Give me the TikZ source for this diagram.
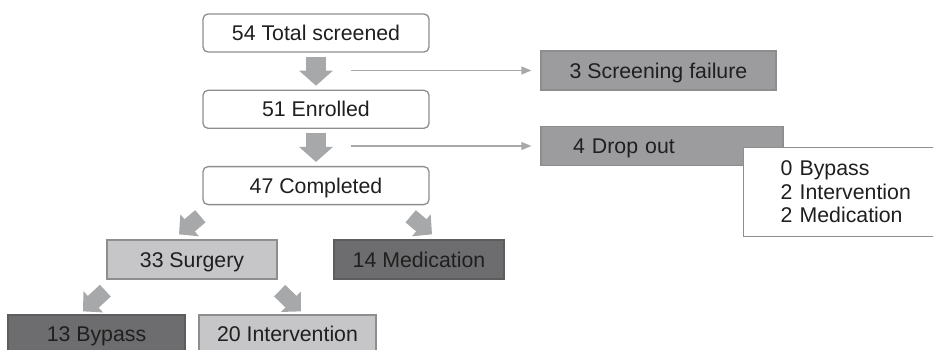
\documentclass[tikz,border=0pt]{standalone}
\usepackage{xcolor}
\usepackage{fontspec}
\setmainfont{Liberation Sans}
\usepackage{tikz}
\usetikzlibrary{positioning, calc, arrows.meta, shapes}

\definecolor{boxline}{HTML}{8E8E8E}
\definecolor{arrowgray}{HTML}{A7A8AA}
\definecolor{lightfill}{HTML}{C6C6C8}
\definecolor{midfill}{HTML}{9C9C9E}
\definecolor{darkfill}{HTML}{6D6D6F}

\tikzset{
	every node/.style={font=\fontsize{21.3}{23.5}\selectfont, text=black!88},
	stagebox/.style={draw=boxline, line width=1.3pt, fill=white, rounded corners=5pt, minimum width=226pt, minimum height=38pt, inner sep=0pt, text height=15pt, text depth=0pt},
	groupbox/.style={draw=boxline, line width=1.3pt, minimum width=170pt, minimum height=39pt, inner sep=0pt, text height=15pt, text depth=0pt},
	exitbox/.style={draw=boxline, line width=1.3pt, fill=midfill, minimum height=39pt, inner sep=0pt, text height=15pt, text depth=0pt},
	downarrow/.style={draw=arrowgray, line width=20pt, -{Triangle[width=33pt, length=15pt]}, shorten <=4pt, shorten >=4pt},
	diagarrow/.style={draw=arrowgray, line width=16pt, -{Triangle[width=28pt, length=14pt]}},
	sidearrow/.style={draw=arrowgray, line width=1.2pt, -{Triangle[width=8pt, length=10pt]}, shorten >=9pt}
}

\begin{document}
\begin{tikzpicture}[x=1pt, y=-1pt]
	
	\useasboundingbox (0,0) rectangle (933,349);
	\clip (0,0) rectangle (933,349);
	
	%//main column
	\node [stagebox] (total) at (316,33) {54 Total screened};
	\node [stagebox, below=37pt of total] (enrol) {51 Enrolled};
	\node [stagebox, below=37pt of enrol] (compl) {47 Completed};
	
	\draw [downarrow] (total) -- (enrol);
	\draw [downarrow] (enrol) -- (compl);
	
	%//losses on the right
	\node [exitbox, minimum width=235pt] (fail) at (658.5,70.5) {3 Screening failure};
	\node [exitbox, minimum width=242pt, text width=178pt, align=left] (drop) at (662,146) {4 Drop out};
	\node [draw=boxline, line width=1.3pt, fill=white, anchor=north west, minimum width=230pt, minimum height=89pt, text width=156pt, inner sep=0pt, align=left] (split) at (743,147) {0 Bypass\\2 Intervention\\2 Medication};
	
	\coordinate (f1) at ([xshift=-189pt]fail.west);
	\coordinate (d1) at ([xshift=-189pt]drop.west);
	\draw [sidearrow] (f1) -- (fail.west);
	\draw [sidearrow] (d1) -- (drop.west);
	
	%//groups
	\node [groupbox, fill=lightfill] (surg) at (192,259.5) {33 Surgery};
	\node [groupbox, fill=darkfill, draw=darkfill!85!black] (med) at (419,259.5) {14 Medication};
	\node [groupbox, fill=darkfill, draw=darkfill!85!black, minimum width=177pt, minimum height=38pt] (byp) at (96.5,334) {13 Bypass};
	\node [groupbox, fill=lightfill, minimum width=177pt, minimum height=38pt] (intv) at (287.5,334) {20 Intervention};
	
	\coordinate (cl) at ([xshift=-2pt, yshift=-11pt]compl.south west);
	\coordinate (cr) at ([xshift=-19pt, yshift=-11pt]compl.south east);
	\coordinate (sl) at ([xshift=-13pt, yshift=5pt]surg.north);
	\coordinate (mr) at ([xshift=13pt, yshift=5pt]med.north);
	\draw [diagarrow] (cl) -- (sl);
	\draw [diagarrow] (cr) -- (mr);
	
	\coordinate (ql) at ([xshift=-1pt, yshift=-11pt]surg.south west);
	\coordinate (qr) at ([xshift=2pt, yshift=-11pt]surg.south east);
	\coordinate (bl) at ([xshift=-13.5pt, yshift=3pt]byp.north);
	\coordinate (ir) at ([xshift=13.5pt, yshift=3pt]intv.north);
	\draw [diagarrow] (ql) -- (bl);
	\draw [diagarrow] (qr) -- (ir);
	
\end{tikzpicture}
\end{document}
